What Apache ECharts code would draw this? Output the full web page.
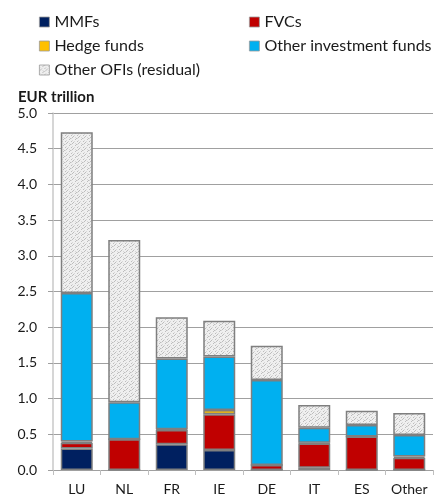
<!DOCTYPE html>
<html>
<head>
<meta charset="utf-8">
<script src="https://cdn.jsdelivr.net/npm/echarts@6/dist/echarts.min.js"></script>
<style>
  html, body { margin: 0; padding: 0; background: #ffffff; }
  #chart { width: 435px; height: 503px; }
</style>
</head>
<body>
<div id="chart"></div>
<script>
// Holdings of other financial institutions by country, EUR trillion
const categories = ['LU', 'NL', 'FR', 'IE', 'DE', 'IT', 'ES', 'Other'];
const mmfs        = [0.30, 0.00, 0.36, 0.28, 0.00, 0.03, 0.00, 0.00];
const fvcs        = [0.08, 0.43, 0.20, 0.50, 0.07, 0.34, 0.47, 0.17];
const hedgeFunds  = [0.02, 0.00, 0.01, 0.06, 0.00, 0.01, 0.00, 0.02];
const otherInvFunds = [2.08, 0.52, 0.99, 0.75, 1.19, 0.21, 0.16, 0.30];
const otherOFIs   = [2.25, 2.27, 0.58, 0.50, 0.48, 0.32, 0.20, 0.31];
const yTicks = ['0.0', '0.5', '1.0', '1.5', '2.0', '2.5', '3.0', '3.5', '4.0', '4.5', '5.0'];

// Speckled light-grey fill for the residual category
function makeSpeckle() {
  const c = document.createElement('canvas');
  c.width = 6; c.height = 6;
  const g = c.getContext('2d');
  g.fillStyle = '#efefef';
  g.fillRect(0, 0, 6, 6);
  g.fillStyle = '#bdbdbd';
  [[0,5],[1,4],[3,1],[4,0],[5,3]].forEach(function (d) { g.fillRect(d[0], d[1], 1, 1); });
  g.fillStyle = '#d6d6d6';
  [[2,3],[5,0],[0,2],[3,5]].forEach(function (d) { g.fillRect(d[0], d[1], 1, 1); });
  return c;
}
const speckle = { image: makeSpeckle(), repeat: 'repeat' };

const FONT = 'Lato';
const border = { borderColor: '#7f7f7f', borderWidth: 1.5 };

function barSeries(name, data, color) {
  return {
    name: name,
    type: 'bar',
    stack: 'total',
    data: data,
    barWidth: 32,
    itemStyle: Object.assign({ color: color }, border),
    emphasis: { disabled: true }
  };
}

const legendCommon = {
  orient: 'vertical',
  top: 9,
  itemWidth: 10, itemHeight: 10, itemGap: 8, itemTextGap: 4,
  icon: 'rect',
  itemStyle: { borderWidth: 0.8, borderColor: '#9a9a9a' },
  textStyle: { fontFamily: FONT, fontSize: 16, color: '#1a1a1a', lineHeight: 16 }
};

const chart = echarts.init(document.getElementById('chart'), null, { renderer: 'canvas' });
chart.setOption({
  animation: false,
  backgroundColor: '#ffffff',
  textStyle: { fontFamily: FONT },
  title: {
    text: 'EUR trillion',
    left: 13, top: 85,
    textStyle: { fontFamily: FONT, fontSize: 15, fontWeight: 'bold', color: '#1a1a1a' }
  },
  legend: [
    Object.assign({ data: ['MMFs', 'Hedge funds', 'Other OFIs (residual)'], left: 34 }, legendCommon),
    Object.assign({ data: ['FVCs', 'Other investment funds'], left: 244 }, legendCommon)
  ],
  grid: { left: 53, right: 2, top: 113, bottom: 33 },
  xAxis: {
    type: 'category',
    data: categories,
    axisLine: { show: false },
    axisTick: { show: true, alignWithLabel: false, length: 5, lineStyle: { color: '#bfbfbf' } },
    axisLabel: { fontFamily: FONT, fontSize: 14, color: '#1a1a1a', margin: 12 }
  },
  yAxis: {
    type: 'value',
    min: 0, max: 5, interval: 0.5,
    axisLine: { show: true, lineStyle: { color: '#c8c8c8', width: 1.5 } },
    axisTick: { show: true, length: 5, lineStyle: { color: '#a0a0a0' } },
    splitLine: { show: true, lineStyle: { color: '#a0a0a0', width: 1 } },
    axisLabel: {
      fontFamily: FONT, fontSize: 14, color: '#1a1a1a', margin: 16,
      formatter: function (v) { return yTicks[Math.round(v * 2)]; }
    }
  },
  series: [
    barSeries('MMFs', mmfs, '#002060'),
    barSeries('FVCs', fvcs, '#c00000'),
    barSeries('Hedge funds', hedgeFunds, '#ffc000'),
    barSeries('Other investment funds', otherInvFunds, '#00b0f0'),
    barSeries('Other OFIs (residual)', otherOFIs, speckle)
  ]
});
</script>
</body>
</html>
